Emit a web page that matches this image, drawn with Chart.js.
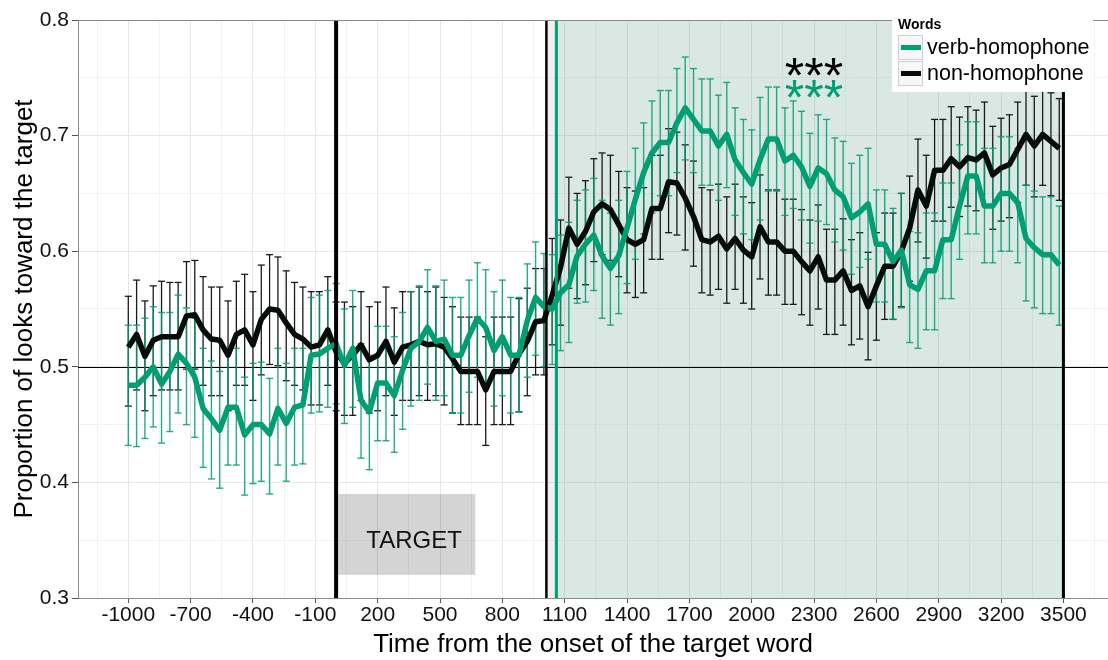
<!DOCTYPE html>
<html>
<head>
<meta charset="utf-8">
<script src="https://cdn.jsdelivr.net/npm/chart.js@4"></script>
<style>
html,body{margin:0;padding:0;background:#fff;overflow:hidden;}
#wrap{position:relative;width:1108px;height:660px;overflow:hidden;}
canvas{display:block;}
</style>
</head>
<body>
<div id="wrap"><canvas id="c" width="1113" height="660"></canvas></div>
<script>
// ---- data ----
const times = [-1000,-960,-920,-880,-840,-800,-760,-720,-680,-640,-600,-560,-520,-480,-440,-400,-360,-320,-280,-240,-200,-160,-120,-80,-40,0,40,80,120,160,200,240,280,320,360,400,440,480,520,560,600,640,680,720,760,800,840,880,920,960,1000,1040,1080,1120,1160,1200,1240,1280,1320,1360,1400,1440,1480,1520,1560,1600,1640,1680,1720,1760,1800,1840,1880,1920,1960,2000,2040,2080,2120,2160,2200,2240,2280,2320,2360,2400,2440,2480,2520,2560,2600,2640,2680,2720,2760,2800,2840,2880,2920,2960,3000,3040,3080,3120,3160,3200,3240,3280,3320,3360,3400,3440,3480];

const verbMean = [.484,.484,.491,.500,.485,.496,.511,.503,.491,.464,.455,.445,.465,.465,.441,.450,.450,.442,.464,.451,.465,.467,.510,.511,.516,.520,.501,.516,.471,.461,.486,.486,.475,.497,.516,.522,.534,.522,.524,.510,.510,.527,.542,.534,.514,.526,.510,.510,.540,.560,.552,.550,.564,.571,.596,.606,.614,.596,.585,.596,.620,.645,.668,.685,.694,.694,.711,.724,.714,.704,.704,.691,.701,.679,.668,.658,.679,.697,.697,.678,.683,.673,.656,.672,.667,.653,.647,.629,.634,.641,.606,.606,.591,.601,.571,.567,.583,.583,.610,.610,.639,.665,.665,.639,.639,.650,.650,.642,.611,.603,.597,.597,.588];
const verbLow = [.432,.431,.438,.448,.434,.444,.460,.450,.439,.413,.403,.395,.415,.415,.389,.399,.401,.390,.415,.401,.415,.416,.460,.461,.465,.468,.451,.465,.421,.411,.436,.436,.426,.446,.466,.471,.485,.471,.475,.460,.460,.478,.491,.485,.466,.475,.460,.461,.491,.510,.500,.502,.514,.521,.555,.556,.566,.542,.536,.546,.572,.593,.615,.633,.648,.648,.668,.679,.668,.657,.657,.644,.655,.631,.615,.610,.627,.652,.652,.631,.637,.627,.607,.626,.623,.608,.601,.580,.586,.593,.556,.556,.541,.551,.521,.516,.532,.532,.559,.559,.593,.615,.615,.590,.590,.600,.600,.590,.557,.551,.546,.546,.536];
const verbHigh = [.536,.536,.542,.552,.547,.547,.562,.551,.542,.516,.505,.496,.516,.516,.491,.503,.504,.490,.516,.503,.516,.516,.560,.562,.566,.572,.550,.566,.520,.510,.535,.535,.526,.547,.565,.570,.584,.570,.575,.560,.560,.575,.590,.584,.565,.575,.560,.560,.589,.608,.598,.597,.614,.625,.644,.653,.663,.644,.633,.644,.669,.689,.711,.730,.739,.739,.758,.768,.758,.749,.749,.735,.746,.724,.714,.705,.733,.742,.742,.724,.730,.721,.702,.718,.714,.698,.695,.676,.683,.689,.653,.653,.637,.650,.617,.616,.633,.633,.659,.659,.692,.712,.712,.689,.689,.699,.699,.689,.657,.652,.647,.647,.639];

const nonMean = [.517,.528,.509,.523,.526,.526,.526,.544,.545,.532,.524,.523,.510,.528,.532,.519,.541,.550,.549,.538,.528,.524,.517,.519,.532,.513,.503,.510,.519,.506,.510,.522,.504,.517,.519,.522,.519,.520,.517,.507,.496,.496,.496,.480,.496,.496,.496,.511,.522,.539,.540,.562,.586,.620,.606,.617,.634,.641,.636,.623,.610,.606,.610,.637,.637,.660,.659,.646,.630,.610,.608,.613,.602,.611,.601,.595,.621,.608,.608,.600,.600,.591,.583,.595,.575,.575,.583,.566,.570,.552,.570,.587,.587,.600,.620,.653,.639,.670,.670,.680,.673,.681,.679,.685,.666,.672,.675,.688,.701,.691,.701,.695,.689];
const nonLow = [.466,.480,.462,.475,.480,.480,.480,.498,.498,.484,.475,.475,.462,.484,.484,.471,.493,.502,.501,.488,.484,.480,.467,.467,.484,.462,.458,.458,.471,.460,.462,.475,.458,.471,.471,.475,.471,.475,.467,.460,.450,.450,.450,.432,.450,.450,.450,.461,.475,.493,.493,.519,.536,.568,.559,.571,.591,.597,.592,.578,.564,.560,.564,.593,.593,.616,.614,.601,.587,.564,.562,.567,.555,.567,.555,.550,.576,.562,.562,.554,.554,.545,.536,.550,.528,.528,.536,.519,.524,.506,.523,.541,.541,.552,.574,.608,.594,.626,.626,.638,.630,.639,.635,.640,.619,.626,.629,.642,.657,.647,.657,.648,.644];
const nonHigh = [.561,.575,.557,.570,.574,.573,.573,.591,.592,.578,.569,.569,.557,.574,.580,.565,.588,.597,.595,.583,.573,.569,.565,.565,.578,.556,.556,.552,.565,.552,.556,.569,.551,.565,.565,.569,.565,.569,.560,.552,.543,.543,.543,.526,.543,.543,.543,.559,.568,.585,.585,.611,.627,.664,.650,.661,.680,.685,.683,.669,.655,.652,.655,.683,.683,.706,.703,.692,.678,.655,.653,.658,.647,.658,.647,.642,.666,.653,.653,.645,.645,.636,.627,.640,.619,.619,.628,.610,.616,.599,.616,.633,.633,.650,.665,.697,.683,.714,.714,.725,.716,.725,.722,.729,.708,.715,.718,.729,.745,.734,.742,.737,.732];

const xMajorTicks = [-1000,-700,-400,-100,200,500,800,1100,1400,1700,2000,2300,2600,2900,3200,3500];
const xMinorTicks = [-1150,-850,-550,-250,50,350,650,950,1250,1550,1850,2150,2450,2750,3050,3350,3650];
const yMajorTicks = [0.3,0.4,0.5,0.6,0.7,0.8];
const yMinorTicks = [0.35,0.45,0.55,0.65,0.75];

const seriesNames = ['verb-homophone','non-homophone'];
const legendTitle = 'Words';
const xTitle = 'Time from the onset of the target word';
const yTitle = 'Proportion of looks toward the target';
const targetLabel = 'TARGET';
const targetBox = {x0: 10, x1: 670, y0: 0.32, y1: 0.39};
const targetLabelPos = {x: 375, y: 0.349};
const markerLines = {onset: 0, offset: 1012, window: 1060, end: 3500};
const sigMark = '***';
const sigX = 2300, sigYBlack = 0.757, sigYGreen = 0.738;

// ---- styles ----
const GREEN = '#009E73';
const BLACK = '#060d09';
const FONT = "'Liberation Sans', Arial, Helvetica, sans-serif";

function errData(lo, hi){
  const out = [];
  times.forEach((t,i)=>{ out.push({x:t,y:lo[i]},{x:t,y:hi[i]},{x:t,y:null}); });
  return out;
}
function lineData(m){ return times.map((t,i)=>({x:t,y:m[i]})); }
const near = (arr,v)=>arr.some(a=>Math.abs(a-v)<1e-6);

const decor = {
  id:'decor',
  beforeDatasetsDraw(chart){
    const {ctx, chartArea:a, scales:{x,y}} = chart;
    ctx.save();
    ctx.beginPath(); ctx.rect(a.left,a.top,a.right-a.left,a.bottom-a.top); ctx.clip();
    ctx.fillStyle='rgba(0,0,0,0.06)';
    ctx.fillRect(x.getPixelForValue(markerLines.offset), a.top, x.getPixelForValue(markerLines.window)-x.getPixelForValue(markerLines.offset), a.bottom-a.top);
    ctx.fillStyle='rgba(65,140,110,0.2)';
    ctx.fillRect(x.getPixelForValue(markerLines.window), a.top, x.getPixelForValue(markerLines.end)-x.getPixelForValue(markerLines.window), a.bottom-a.top);
    const bx0=x.getPixelForValue(targetBox.x0), bx1=x.getPixelForValue(targetBox.x1);
    const by0=y.getPixelForValue(targetBox.y1), by1=y.getPixelForValue(targetBox.y0);
    ctx.fillStyle='rgba(0,0,0,0.17)';
    ctx.fillRect(bx0,by0,bx1-bx0,by1-by0);
    ctx.fillStyle='#111';
    ctx.font='24px '+FONT;
    ctx.textAlign='center'; ctx.textBaseline='middle';
    ctx.fillText(targetLabel, x.getPixelForValue(targetLabelPos.x), y.getPixelForValue(targetLabelPos.y));
    const hy = Math.round(y.getPixelForValue(0.5))+0.5;
    ctx.strokeStyle='#000'; ctx.lineWidth=1.2;
    ctx.beginPath(); ctx.moveTo(a.left,hy); ctx.lineTo(a.right,hy); ctx.stroke();
    ctx.restore();
  },
  afterDatasetsDraw(chart){
    const {ctx, chartArea:a, scales:{x,y}} = chart;
    ctx.save();
    const vline=(v,color,w)=>{
      const px=x.getPixelForValue(v);
      ctx.strokeStyle=color; ctx.lineWidth=w;
      ctx.beginPath(); ctx.moveTo(px,a.top); ctx.lineTo(px,a.bottom); ctx.stroke();
    };
    vline(markerLines.onset,'#000',4);
    vline(markerLines.offset,'#000',2.5);
    vline(markerLines.window,GREEN,3);
    vline(markerLines.end,'#000',3);
    ctx.strokeStyle='#8a8a8a'; ctx.lineWidth=1;
    ctx.beginPath(); ctx.moveTo(a.left,a.top+0.5); ctx.lineTo(a.right,a.top+0.5); ctx.stroke();
    ctx.font='50px '+FONT;
    ctx.textAlign='center'; ctx.textBaseline='middle';
    ctx.fillStyle='#000';
    ctx.fillText(sigMark, x.getPixelForValue(sigX), y.getPixelForValue(sigYBlack)+10);
    ctx.fillStyle=GREEN;
    ctx.fillText(sigMark, x.getPixelForValue(sigX), y.getPixelForValue(sigYGreen)+10);
    ctx.restore();
  },
  afterDraw(chart){
    const {ctx} = chart;
    ctx.save();
    ctx.fillStyle='#fff';
    ctx.fillRect(892,8,201,84);
    ctx.fillStyle='#000';
    ctx.font='bold 14px '+FONT;
    ctx.textAlign='left'; ctx.textBaseline='middle';
    ctx.fillText(legendTitle, 898, 25);
    const cols=[GREEN,BLACK];
    seriesNames.forEach((n,i)=>{
      const top=35+i*26;
      ctx.fillStyle='#f7f7f7'; ctx.fillRect(898,top,25,25);
      ctx.strokeStyle='#d0d0d0'; ctx.lineWidth=1; ctx.strokeRect(898.5,top+0.5,24,24);
      ctx.strokeStyle=cols[i]; ctx.lineWidth=5;
      ctx.beginPath(); ctx.moveTo(901,top+12.5); ctx.lineTo(921,top+12.5); ctx.stroke();
      ctx.fillStyle='#000'; ctx.font='21.5px '+FONT;
      ctx.fillText(n, 927, top+13);
    });
    ctx.restore();
  }
};

const cfg = {
  type:'line',
  data:{
    datasets:[
      {label:seriesNames[0], data:lineData(verbMean), borderColor:GREEN, borderWidth:5.5, pointRadius:0, tension:0, borderJoinStyle:'round', order:0},
      {label:seriesNames[1], data:lineData(nonMean), borderColor:BLACK, borderWidth:5.5, pointRadius:0, tension:0, borderJoinStyle:'round', order:1},
      {label:'verb-err', data:errData(verbLow,verbHigh), borderColor:'rgba(0,158,115,0.85)', borderWidth:1.4, pointStyle:'line', pointRadius:3.5, pointBorderWidth:1.4, pointBorderColor:'rgba(0,158,115,0.85)', pointHoverRadius:0, spanGaps:false, order:2},
      {label:'non-err', data:errData(nonLow,nonHigh), borderColor:'#1a1a1a', borderWidth:1.3, pointStyle:'line', pointRadius:3.5, pointBorderWidth:1.3, pointBorderColor:'#1a1a1a', pointHoverRadius:0, spanGaps:false, order:3}
    ]
  },
  options:{
    responsive:false, animation:false, devicePixelRatio:1,
    layout:{padding:{top:20,right:0,left:0,bottom:0}},
    plugins:{legend:{display:false}, tooltip:{enabled:false}},
    events:[],
    scales:{
      x:{
        type:'linear', min:-1242, max:3715,
        afterBuildTicks(s){ s.ticks = xMajorTicks.concat(xMinorTicks).sort((a,b)=>a-b).map(v=>({value:v})); },
        afterFit(s){ s.height = 62; },
        ticks:{ autoSkip:false, maxRotation:0, padding:0, color:'#111', font:{family:FONT,size:21},
          callback:(v)=> near(xMajorTicks,v) ? String(v) : '' },
        grid:{ color:(c)=> near(xMajorTicks,c.tick.value) ? '#e6e6e6' : '#f2f2f2', lineWidth:1, tickLength:5,
          tickColor:(c)=> near(xMajorTicks,c.tick.value) ? '#555' : 'rgba(0,0,0,0)' },
        border:{display:true,color:'#8a8a8a',width:1},
        title:{display:true,text:xTitle,color:'#000',font:{family:FONT,size:26},padding:{top:0,bottom:0}}
      },
      y:{
        type:'linear', min:0.3, max:0.8,
        afterBuildTicks(s){ s.ticks = yMajorTicks.concat(yMinorTicks).sort((a,b)=>a-b).map(v=>({value:v})); },
        afterFit(s){ s.width = 78; },
        ticks:{ autoSkip:false, padding:3, color:'#111', font:{family:FONT,size:21},
          callback:(v)=> near(yMajorTicks,v) ? v.toFixed(1) : '' },
        grid:{ color:(c)=> near(yMajorTicks,c.tick.value) ? '#e6e6e6' : '#f2f2f2', lineWidth:1, tickLength:6,
          tickColor:(c)=> near(yMajorTicks,c.tick.value) ? '#555' : 'rgba(0,0,0,0)' },
        border:{display:true,color:'#8a8a8a',width:1},
        title:{display:true,text:yTitle,color:'#000',font:{family:FONT,size:26},padding:{top:9,bottom:0}}
      }
    }
  },
  plugins:[decor]
};
new Chart(document.getElementById('c'), cfg);
</script>
</body>
</html>
